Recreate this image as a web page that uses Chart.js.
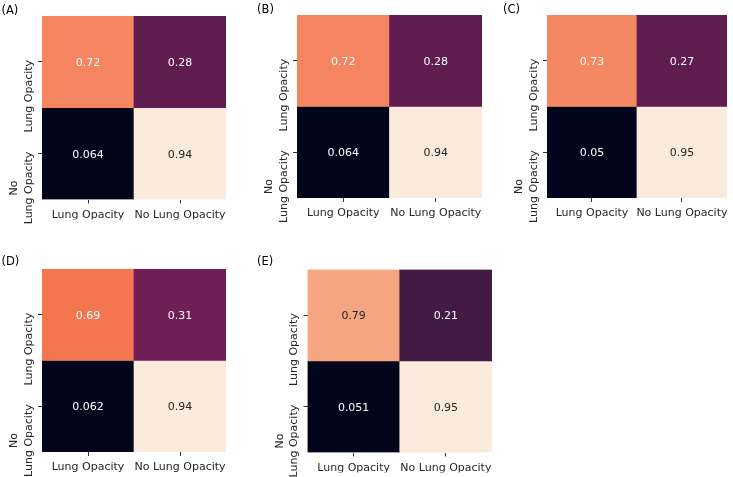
<!DOCTYPE html>
<html>
<head>
<meta charset="utf-8">
<script src="https://cdn.jsdelivr.net/npm/chart.js@4.4.0/dist/chart.umd.min.js"></script>
<style>
  html, body { margin: 0; padding: 0; background: #fff; }
  #lienzo { position: relative; width: 733px; height: 477px; }
  #lienzo canvas { position: absolute; left: 0; top: 0; }
</style>
</head>
<body>
<div id="lienzo">
  <canvas id="panel-0" width="733" height="477"></canvas>
  <canvas id="panel-1" width="733" height="477"></canvas>
  <canvas id="panel-2" width="733" height="477"></canvas>
  <canvas id="panel-3" width="733" height="477"></canvas>
  <canvas id="panel-4" width="733" height="477"></canvas>
</div>
<script>
// Datos de las matrices de confusion (filas = real, columnas = prediccion)
const categorias = ['Lung Opacity', 'No Lung Opacity'];
const etiquetasFilas = [['Lung Opacity'], ['No', 'Lung Opacity']];
const paneles = ['(A)', '(B)', '(C)', '(D)', '(E)'];
const matrizA = [[0.72, 0.28], [0.064, 0.94]];
const matrizB = [[0.72, 0.28], [0.064, 0.94]];
const matrizC = [[0.73, 0.27], [0.05, 0.95]];
const matrizD = [[0.69, 0.31], [0.062, 0.94]];
const matrizE = [[0.79, 0.21], [0.051, 0.95]];
const matrices = [matrizA, matrizB, matrizC, matrizD, matrizE];

// Posicion de cada grafica en la pagina
const ubicaciones = [
    { area: { left: 42, top: 16, right: 226, bottom: 199.5 }, rotulo: { x: 1.5, y: 13.5 } },
    { area: { left: 297, top: 15, right: 482, bottom: 198 }, rotulo: { x: 257, y: 12.5 } },
    { area: { left: 547, top: 15, right: 731, bottom: 198 }, rotulo: { x: 503, y: 13 } },
    { area: { left: 42, top: 269, right: 226, bottom: 452 }, rotulo: { x: 1.5, y: 264.5 } },
    { area: { left: 307.5, top: 269.5, right: 492, bottom: 452.5 }, rotulo: { x: 257, y: 265 } }
];

const fuente = 'DejaVu Sans';
const colorTexto = '#262626';

// Paleta "rocket" de seaborn
const rocket = [
    [0, [3, 5, 26]],
    [1 / 7, [53, 25, 62]],
    [2 / 7, [112, 31, 87]],
    [3 / 7, [173, 23, 89]],
    [4 / 7, [225, 51, 66]],
    [5 / 7, [243, 118, 81]],
    [6 / 7, [246, 180, 143]],
    [1, [250, 235, 221]]
];

function colorRocket(t) {
    t = Math.max(0, Math.min(1, t));
    for (let i = 1; i < rocket.length; i++) {
        if (t <= rocket[i][0]) {
            const [t0, c0] = rocket[i - 1];
            const [t1, c1] = rocket[i];
            const f = (t - t0) / (t1 - t0);
            return c0.map((v, k) => Math.round(v + (c1[k] - v) * f));
        }
    }
    return rocket[rocket.length - 1][1];
}

function luminancia(rgb) {
    const lin = rgb.map(v => {
        v = v / 255;
        return v <= 0.03928 ? v / 12.92 : Math.pow((v + 0.055) / 1.055, 2.4);
    });
    return 0.2126 * lin[0] + 0.7152 * lin[1] + 0.0722 * lin[2];
}

function formato(v) {
    return Number(v.toPrecision(2)).toString();
}

// Rotulo del panel, etiquetas verticales y anotaciones de celdas
const pluginMatriz = {
    id: 'matriz',
    afterDatasetsDraw(chart, args, opts) {
        const ctx = chart.ctx;
        ctx.save();
        ctx.font = '11px "' + fuente + '"';
        ctx.textAlign = 'center';
        ctx.textBaseline = 'alphabetic';
        chart.data.datasets.forEach((ds, fila) => {
            chart.getDatasetMeta(fila).data.forEach((barra, col) => {
                const valor = opts.matriz[fila][col];
                const y = (barra.y + barra.base) / 2;
                ctx.fillStyle = ds.colorAnotacion[col];
                ctx.fillText(formato(valor), barra.x, y + 4);
            });
        });
        ctx.restore();
    },
    afterDraw(chart, args, opts) {
        const ctx = chart.ctx;
        const area = chart.chartArea;
        const escalaY = chart.scales.y;
        ctx.save();
        ctx.font = '11.5px "' + fuente + '"';
        ctx.fillStyle = '#000';
        ctx.textAlign = 'left';
        ctx.textBaseline = 'alphabetic';
        ctx.fillText(opts.rotulo, opts.posRotulo.x, opts.posRotulo.y);

        ctx.font = '11px "' + fuente + '"';
        ctx.fillStyle = colorTexto;
        etiquetasFilas.forEach((lineas, fila) => {
            const yTick = escalaY.getPixelForValue(fila + 0.5);
            const ancho = Math.max(...lineas.map(l => ctx.measureText(l).width));
            lineas.forEach((linea, i) => {
                const xBase = area.left - 10.5 - (lineas.length - 1 - i) * 14.5;
                ctx.save();
                ctx.translate(xBase, yTick);
                ctx.rotate(-Math.PI / 2);
                ctx.textAlign = 'center';
                ctx.fillText(linea, 2 - ancho / 2, 0);
                ctx.restore();
            });
        });
        ctx.restore();
    }
};

matrices.forEach((matriz, p) => {
    const area = ubicaciones[p].area;
    const valores = matriz.flat();
    const minimo = Math.min(...valores);
    const maximo = Math.max(...valores);
    const anchoEjeY = 6;
    const altoEjeX = 20;

    const datasets = matriz.map((fila, r) => {
        const colores = fila.map(v => colorRocket((v - minimo) / (maximo - minimo)));
        return {
            label: categorias[r],
            data: fila.map(() => [r, r + 1]),
            backgroundColor: colores.map(c => `rgb(${c[0]}, ${c[1]}, ${c[2]})`),
            colorAnotacion: colores.map(c => luminancia(c) > 0.408 ? colorTexto : '#ffffff'),
            borderWidth: 0,
            grouped: false,
            barPercentage: 1,
            categoryPercentage: 1
        };
    });

    new Chart(document.getElementById('panel-' + p), {
        type: 'bar',
        data: { labels: categorias, datasets },
        options: {
            responsive: false,
            animation: false,
            events: [],
            devicePixelRatio: 1,
            layout: {
                padding: {
                    left: area.left - anchoEjeY,
                    top: area.top,
                    right: 733 - area.right,
                    bottom: 477 - area.bottom - altoEjeX
                }
            },
            scales: {
                x: {
                    type: 'category',
                    offset: true,
                    afterFit: escala => { escala.height = altoEjeX; },
                    grid: { offset: false, drawOnChartArea: false, tickLength: 4, color: '#333', lineWidth: 1 },
                    border: { display: false },
                    ticks: {
                        color: colorTexto,
                        font: { family: fuente, size: 11 },
                        padding: 5,
                        maxRotation: 0,
                        autoSkip: false
                    }
                },
                y: {
                    type: 'linear',
                    min: 0,
                    max: 2,
                    reverse: true,
                    afterBuildTicks: escala => {
                        escala.ticks = matriz.map((f, r) => ({ value: r + 0.5 }));
                    },
                    afterFit: escala => { escala.width = anchoEjeY; },
                    grid: { drawOnChartArea: false, tickLength: 4, color: '#333', lineWidth: 1 },
                    border: { display: false },
                    ticks: { display: false }
                }
            },
            plugins: {
                legend: { display: false },
                tooltip: { enabled: false },
                matriz: {
                    matriz: matriz,
                    rotulo: paneles[p],
                    posRotulo: ubicaciones[p].rotulo
                }
            }
        },
        plugins: [pluginMatriz]
    });
});
</script>
</body>
</html>
